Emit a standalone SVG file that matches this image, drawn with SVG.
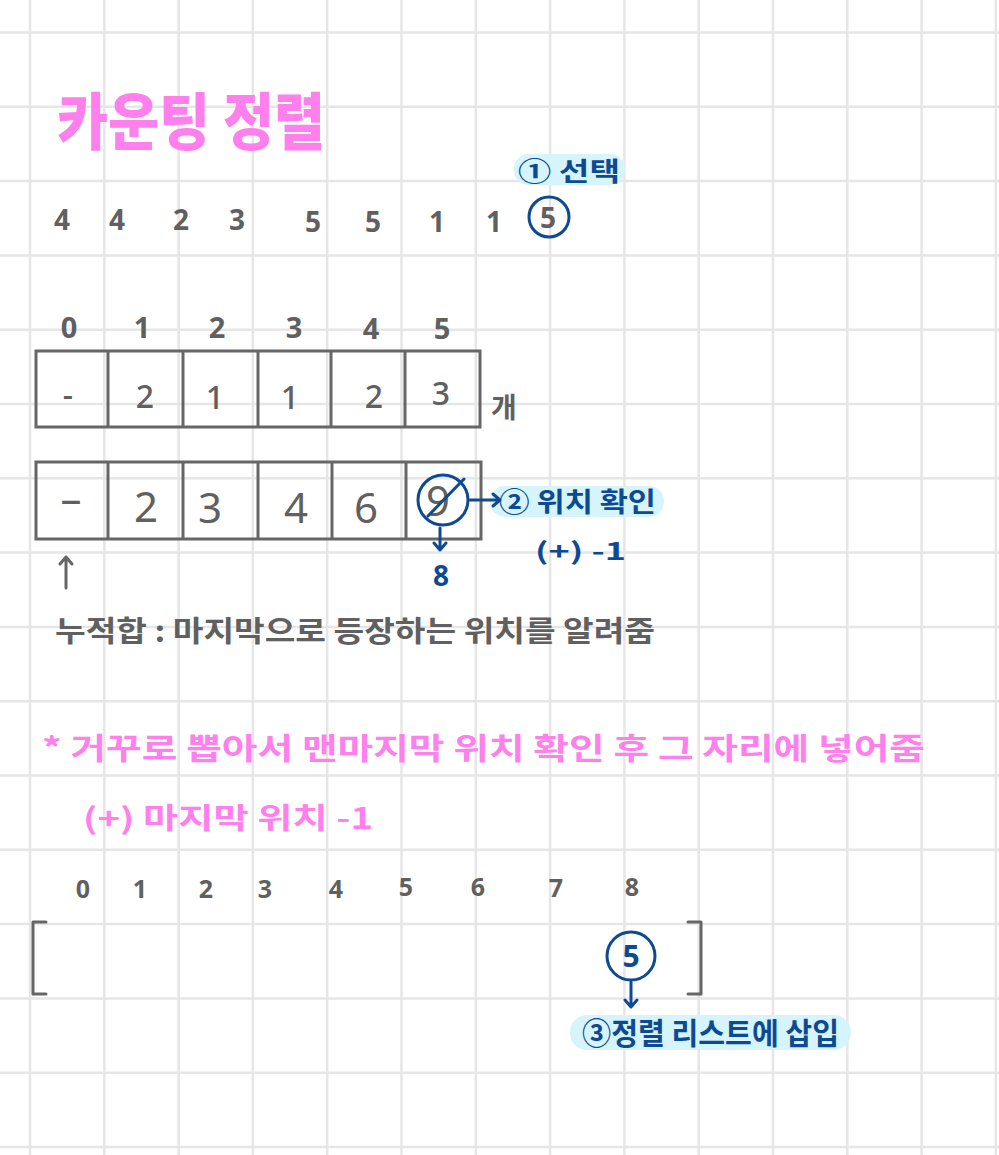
<svg xmlns="http://www.w3.org/2000/svg" width="999" height="1155" viewBox="0 0 999 1155">
<style>
.grid{stroke:#e6e6e6;stroke-width:2.5;fill:none}
.k{font-family:"Noto Sans CJK KR","Noto Sans",sans-serif}
.g{fill:#606060}
.b{fill:#0e4a92}
.p{fill:#ff80ec}
.d{font-family:"Noto Sans","Noto Sans CJK KR",sans-serif;text-anchor:middle}
.box{fill:none;stroke:#666;stroke-width:3}
.bl{fill:none;stroke:#0e4a92;stroke-width:3;stroke-linecap:round;stroke-linejoin:round}
.gl{fill:none;stroke:#666;stroke-width:3;stroke-linecap:round;stroke-linejoin:round}
.hl{fill:#d6f4fc}
</style>
<rect width="999" height="1155" fill="#fff"/>
<path class="grid" d="M30 0V1155M104.3 0V1155M178.6 0V1155M252.9 0V1155M327.2 0V1155M401.5 0V1155M475.8 0V1155M550.1 0V1155M624.4 0V1155M698.7 0V1155M773 0V1155M847.3 0V1155M921.6 0V1155M995.9 0V1155M0 32.5H999M0 106.8H999M0 181.1H999M0 255.4H999M0 329.7H999M0 404H999M0 478.3H999M0 552.6H999M0 626.9H999M0 701.2H999M0 775.5H999M0 849.8H999M0 924.1H999M0 998.4H999M0 1072.7H999M0 1147H999"/>

<g id="title"><text class="k p" x="57" y="145" font-size="62" font-weight="900" textLength="268" lengthAdjust="spacingAndGlyphs">카운팅 정렬</text></g>

<g id="input-row" class="d g" font-size="28" font-weight="700">
<text x="62" y="230">4</text><text x="117" y="230">4</text><text x="181" y="230">2</text><text x="237" y="230">3</text><text x="313" y="232">5</text><text x="373" y="232">5</text><text x="437" y="232">1</text><text x="494" y="232">1</text><text x="548" y="228">5</text>
</g>
<g id="select-mark">
<circle class="bl" cx="549" cy="217" r="20"/>
<rect class="hl" x="514" y="154" width="111" height="31" rx="15"/>
<text class="k b" x="518" y="181" font-size="26" font-weight="700" textLength="102" lengthAdjust="spacingAndGlyphs">① 선택</text>
</g>

<g id="count-index" class="d g" font-size="29" font-weight="700">
<text x="69" y="338">0</text><text x="142" y="338">1</text><text x="217" y="338">2</text><text x="294" y="338">3</text><text x="371" y="339">4</text><text x="442" y="339">5</text>
</g>
<g id="count-table">
<rect class="box" x="36" y="351" width="444" height="76"/>
<path class="box" d="M108 351V427M183 351V427M258 351V427M331 351V427M405 351V427"/>
<g class="d g" font-size="32" font-weight="500">
<text x="68" y="406">-</text><text x="145" y="408">2</text><text x="215" y="409">1</text><text x="290" y="409">1</text><text x="374" y="408">2</text><text x="441" y="405">3</text>
</g>
<text class="k g" x="491" y="418" font-size="28" font-weight="700">개</text>
</g>

<g id="cumsum-table">
<rect class="box" x="36" y="462" width="445" height="77"/>
<path class="box" d="M108 462V539M183 462V539M258 462V539M332 462V539M406 462V539"/>
<g class="d g" font-size="42" font-weight="400">
<text x="71" y="514">–</text><text x="146" y="522">2</text><text x="210" y="523">3</text><text x="296" y="523">4</text><text x="366" y="523">6</text><text x="438" y="516">9</text>
</g>
<circle class="bl" cx="443" cy="500" r="25"/>
<path class="bl" d="M428 516L464 479"/>
</g>

<g id="position-check">
<rect class="hl" x="490" y="486" width="174" height="31" rx="15"/>
<text class="k b" x="499" y="512" font-size="27" font-weight="700" textLength="157" lengthAdjust="spacingAndGlyphs">② 위치 확인</text>
<text class="k b" x="535" y="560" font-size="24" font-weight="700" textLength="91" lengthAdjust="spacingAndGlyphs">(+) -1</text>
</g>
<g id="pos8"><text class="d b" x="441" y="586" font-size="28" font-weight="700">8</text></g>

<g id="cumsum-note">
<text class="k g" x="55" y="642" font-size="29" font-weight="700" textLength="600" lengthAdjust="spacingAndGlyphs">누적합 : 마지막으로 등장하는 위치를 알려줌</text>
</g>

<g id="pink-note">
<text class="k p" x="42" y="759" font-size="30" font-weight="700" textLength="883" lengthAdjust="spacingAndGlyphs">* 거꾸로 뽑아서 맨마지막 위치 확인 후 그 자리에 넣어줌</text>
<text class="k p" x="83" y="829" font-size="29" font-weight="700" textLength="290" lengthAdjust="spacingAndGlyphs">(+) 마지막 위치 -1</text>
</g>

<g id="result-index" class="d g" font-size="25" font-weight="700">
<text x="83" y="898">0</text><text x="140" y="898">1</text><text x="206" y="898">2</text><text x="265" y="898">3</text><text x="336" y="898">4</text><text x="406" y="896">5</text><text x="478" y="896">6</text><text x="556" y="897">7</text><text x="632" y="896">8</text>
</g>
<g id="result-list">
<path class="gl" d="M46 922H33V994H46M688 922H701V994H688"/>
</g>
<g id="inserted">
<circle class="bl" cx="631" cy="956" r="24"/>
<text class="d b" x="631" y="967" font-size="30" font-weight="700">5</text>
</g>
<g id="insert-label">
<rect class="hl" x="570" y="1015" width="281" height="35" rx="17"/>
<text class="k b" x="582" y="1044" font-size="30" font-weight="700" textLength="257" lengthAdjust="spacingAndGlyphs">③정렬 리스트에 삽입</text>
</g>

<g id="connectors">
<path class="bl" d="M470 500H500M493 494L500 500L493 506"/>
<path class="bl" d="M440 528V550M434 543L440 550L446 543"/>
<path class="bl" d="M631 982V1007M625 1000L631 1007L637 1000"/>
<path class="gl" d="M66 588V557M60 564L66 557L72 564"/>
</g>
</svg>
